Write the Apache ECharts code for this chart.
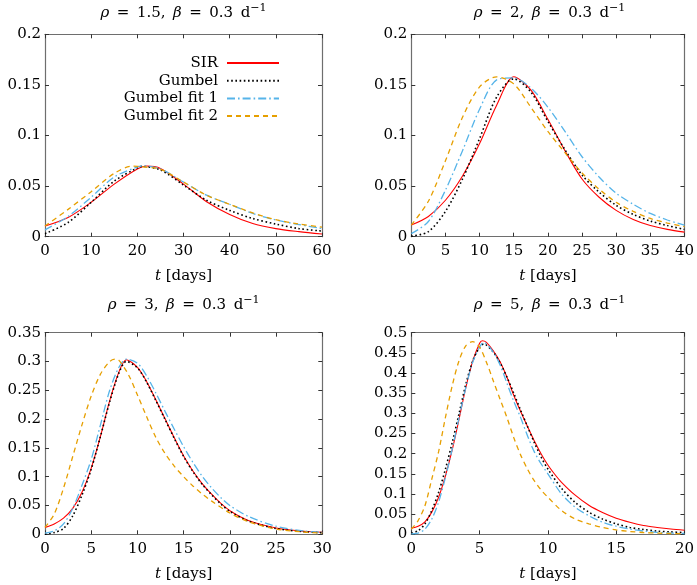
<!DOCTYPE html>
<html><head><meta charset="utf-8">
<script src="https://cdn.jsdelivr.net/npm/echarts@6/dist/echarts.min.js"></script>
<style>html,body{margin:0;padding:0;background:#fff}#c{width:697px;height:585px}</style>
</head><body><div id="c"></div>
<script>
// ---------- data ----------
const seriesNames = ['SIR', 'Gumbel', 'Gumbel fit 1', 'Gumbel fit 2'];
const panelRho = ['1.5', '2', '3', '5'];
const xMaxes = [60, 40, 30, 20];
const xIntervals = [10, 5, 5, 5];
const yMaxes = [0.2, 0.2, 0.35, 0.5];

// Panel 1: rho = 1.5
const p1_sir_t  = [0,5,10,15,20,22,25,30,35,40,45,50,55,60];
const p1_sir    = [0.0105,0.019,0.034,0.052,0.067,0.0698,0.0675,0.052,0.0346,0.022,0.013,0.008,0.005,0.0026];
const p1_gum_t  = [0,5,10,15,20,21,25,30,35,40,45,50,55,60];
const p1_gum    = [0.003,0.014,0.034,0.055,0.068,0.0695,0.066,0.051,0.036,0.026,0.018,0.0125,0.008,0.0056];
const p1_fit1_t = [0,5,10,15,20,21,25,30,35,40,45,50,55,60];
const p1_fit1   = [0.0068,0.02,0.039,0.059,0.069,0.0698,0.067,0.054,0.041,0.032,0.023,0.0165,0.012,0.008];
const p1_fit2_t = [0,5,10,15,19,20,25,30,35,40,45,50,55,60];
const p1_fit2   = [0.0105,0.027,0.0445,0.0626,0.0698,0.0695,0.0665,0.054,0.041,0.032,0.0235,0.0168,0.0125,0.0095];

// Panel 2: rho = 2
const p2_t      = [0,2.5,5,7.5,10,12.5,15,17.5,20,22.5,25,27.5,30,32.5,35,37.5,40];
const p2_sir    = [0.0115,0.02,0.036,0.06,0.092,0.13,0.158,0.145,0.116,0.085,0.057,0.039,0.026,0.017,0.011,0.0072,0.0045];
const p2_gum    = [0.0005,0.005,0.025,0.057,0.097,0.138,0.156,0.143,0.114,0.086,0.061,0.044,0.031,0.022,0.0155,0.011,0.0072];
const p2_fit1   = [0.003,0.015,0.046,0.085,0.126,0.155,0.157,0.147,0.128,0.104,0.079,0.059,0.043,0.032,0.023,0.0165,0.0115];
const p2_fit2   = [0.0115,0.035,0.075,0.118,0.148,0.158,0.151,0.128,0.104,0.083,0.063,0.047,0.034,0.025,0.018,0.0135,0.0099];

// Panel 3: rho = 3
const p3_sir_t  = [0,1,2,3,4,5,6,7,8,8.8,10,11,12,13,14,15,16,17,18,19,20,22,25,28,30];
const p3_sir    = [0.012,0.018,0.028,0.045,0.073,0.115,0.17,0.232,0.282,0.303,0.29,0.265,0.233,0.2,0.167,0.136,0.11,0.088,0.07,0.054,0.041,0.024,0.011,0.0052,0.0035];
const p3_gum_t  = [0,1,2,3,4,5,6,7,8,8.8,10,11,12,13,14,15,16,17,18,19,20,22,25,28,30];
const p3_gum    = [0.0,0.003,0.01,0.032,0.068,0.113,0.17,0.23,0.28,0.3,0.289,0.264,0.232,0.199,0.166,0.135,0.109,0.087,0.069,0.053,0.04,0.023,0.01,0.0045,0.0028];
const p3_fit1_t = [0,1,2,3,4,5,6,7,8,8.8,10,11,12,13,14,15,16,17,18,19,20,22,25,28,30];
const p3_fit1   = [0.002,0.006,0.018,0.045,0.085,0.13,0.19,0.25,0.29,0.304,0.297,0.275,0.245,0.213,0.182,0.152,0.125,0.101,0.081,0.064,0.05,0.031,0.014,0.0058,0.0032];
const p3_fit2_t = [0,1,2,3,4,5,6,7,7.6,8,9,10,11,12,13,14,15,16,17,18,20,22,25,28,30];
const p3_fit2   = [0.012,0.035,0.08,0.135,0.19,0.24,0.278,0.3,0.304,0.302,0.278,0.242,0.204,0.168,0.14,0.118,0.1,0.084,0.07,0.058,0.037,0.022,0.009,0.004,0.002];

// Panel 4: rho = 5
const p4_sir_t  = [0,0.5,1,1.5,2,2.5,3,3.5,4,4.5,5,5.2,5.5,6,6.5,7,7.5,8,8.5,9,9.5,10,10.5,11,12,13,14,15,16,17,18,19,20];
const p4_sir    = [0.015,0.02,0.031,0.055,0.092,0.145,0.21,0.286,0.365,0.43,0.474,0.48,0.476,0.455,0.428,0.39,0.345,0.305,0.268,0.232,0.2,0.172,0.149,0.129,0.097,0.072,0.054,0.04,0.03,0.022,0.017,0.013,0.01];
const p4_gum_t  = [0,0.5,1,1.5,2,2.5,3,3.5,4,4.5,5,5.3,6,6.5,7,7.5,8,8.5,9,9.5,10,11,12,13,14,15,16,17,18,19,20];
const p4_gum    = [0.003,0.009,0.026,0.059,0.104,0.162,0.228,0.3,0.373,0.43,0.464,0.472,0.452,0.425,0.39,0.35,0.308,0.268,0.228,0.192,0.162,0.114,0.079,0.055,0.038,0.026,0.017,0.012,0.008,0.006,0.004];
const p4_fit1_t = [0,0.5,1,1.5,2,2.5,3,3.5,4,4.5,5,5.3,6,6.5,7,7.5,8,8.5,9,9.5,10,11,12,13,14,15,16,17,18,19,20];
const p4_fit1   = [0.001,0.003,0.013,0.038,0.08,0.141,0.212,0.29,0.365,0.427,0.464,0.476,0.452,0.42,0.375,0.33,0.29,0.245,0.205,0.175,0.15,0.1,0.067,0.046,0.03,0.02,0.013,0.008,0.005,0.003,0.002];
const p4_fit2_t = [0,0.5,1,1.5,2,2.5,3,3.5,4,4.5,5,5.5,6,6.5,7,7.5,8,8.5,9,9.5,10,11,12,13,14,15,16,17,18,19,20];
const p4_fit2   = [0.013,0.034,0.071,0.137,0.205,0.29,0.369,0.431,0.468,0.478,0.464,0.427,0.381,0.335,0.29,0.24,0.197,0.162,0.133,0.11,0.092,0.059,0.038,0.026,0.017,0.011,0.007,0.0045,0.003,0.002,0.0015];

const panelData = [
  [[p1_sir_t,p1_sir],[p1_gum_t,p1_gum],[p1_fit1_t,p1_fit1],[p1_fit2_t,p1_fit2]],
  [[p2_t,p2_sir],[p2_t,p2_gum],[p2_t,p2_fit1],[p2_t,p2_fit2]],
  [[p3_sir_t,p3_sir],[p3_gum_t,p3_gum],[p3_fit1_t,p3_fit1],[p3_fit2_t,p3_fit2]],
  [[p4_sir_t,p4_sir],[p4_gum_t,p4_gum],[p4_fit1_t,p4_fit1],[p4_fit2_t,p4_fit2]]
];

// ---------- layout & style ----------
const FONT = 'DejaVu Serif';
const FS = 15;
const AXIS_COLOR = '#6e6e6e';
const grids = [
  {left: 45,    top: 34.3,  width: 277,   height: 202.4},
  {left: 411.3, top: 34.3,  width: 276.4, height: 202.4},
  {left: 45,    top: 332.7, width: 277.3, height: 201.6},
  {left: 411.3, top: 332.7, width: 276.4, height: 201.6}
];
const lineStyles = [
  {color: '#ff0000', width: 1.1, type: 'solid'},
  {color: '#000000', width: 1.6, type: [1.6, 2.6]},
  {color: '#56b4e9', width: 1.3, type: [8, 3, 1.6, 3]},
  {color: '#e69f00', width: 1.3, type: [5, 4]}
];

const SP = '\u2002';
const xAxes = [], yAxes = [], series = [], graphics = [];
grids.forEach((g, i) => {
  const axLine = {show: true, onZero: false, lineStyle: {color: AXIS_COLOR, width: 1.2}};
  const tick = {show: true, inside: true, length: 4, lineStyle: {color: '#333', width: 1}};
  xAxes.push({
    gridIndex: i, type: 'value', position: 'bottom', min: 0, max: xMaxes[i], interval: xIntervals[i],
    axisLine: axLine, axisTick: tick, splitLine: {show: false},
    axisLabel: {fontFamily: FONT, fontSize: FS, color: '#000', margin: 7},
    name: '{i|t} [days]', nameLocation: 'middle', nameGap: 32,
    nameTextStyle: {fontFamily: FONT, fontSize: FS, color: '#000',
      rich: {i: {fontStyle: 'italic', fontFamily: FONT, fontSize: FS, color: '#000'}}}
  });
  yAxes.push({
    gridIndex: i, type: 'value', position: 'left', min: 0, max: yMaxes[i], interval: 0.05,
    axisLine: axLine, axisTick: tick, splitLine: {show: false},
    axisLabel: {fontFamily: FONT, fontSize: FS, color: '#000', margin: 4}
  });
  series.push(...panelData[i].map((d, k) => ({
    name: seriesNames[k], type: 'line', xAxisIndex: i, yAxisIndex: i,
    data: d[0].map((t, j) => [t, d[1][j]]),
    smooth: 0.3, symbol: 'none', showSymbol: false, clip: true,
    lineStyle: lineStyles[k], itemStyle: {color: lineStyles[k].color},
    emphasis: {disabled: true}, silent: true, animation: false
  })));
  graphics.push({
    type: 'text', x: g.left + g.width / 2, y: i < 2 ? 13 : 305,
    style: {
      text: '{i|ρ}' + SP + '=' + SP + panelRho[i] + ',' + SP + '{i|β}' + SP + '=' + SP + '0.3' + SP + 'd{s|−1}',
      fontFamily: FONT, fontSize: FS, fill: '#000', lineHeight: 20,
      textAlign: 'center', textVerticalAlign: 'middle', align: 'center', verticalAlign: 'middle',
      rich: {
        i: {fontStyle: 'italic', fontFamily: FONT, fontSize: FS, lineHeight: 20},
        s: {fontFamily: FONT, fontSize: 11, lineHeight: 10, verticalAlign: 'top'}
      }
    }
  });
});
// mirrored top / right axes (ticks only)
grids.forEach((g, i) => {
  const axLine = {show: true, onZero: false, lineStyle: {color: AXIS_COLOR, width: 1.2}};
  const tick = {show: true, inside: true, length: 4, lineStyle: {color: '#333', width: 1}};
  xAxes.push({gridIndex: i, type: 'value', position: 'top', min: 0, max: xMaxes[i], interval: xIntervals[i],
    axisLine: axLine, axisTick: tick, axisLabel: {show: false}, splitLine: {show: false}});
  yAxes.push({gridIndex: i, type: 'value', position: 'right', min: 0, max: yMaxes[i], interval: 0.05,
    axisLine: axLine, axisTick: tick, axisLabel: {show: false}, splitLine: {show: false}});
});

const chart = echarts.init(document.getElementById('c'), null, {renderer: 'canvas'});
chart.setOption({
  animation: false,
  backgroundColor: '#fff',
  grid: grids,
  xAxis: xAxes,
  yAxis: yAxes,
  series: series,
  graphic: graphics,
  legend: {
    data: seriesNames, orient: 'vertical', right: 417, top: 55.5, align: 'right', padding: 0,
    itemWidth: 52, itemHeight: 14, itemGap: 2.7, selectedMode: false,
    itemStyle: {opacity: 0},
    textStyle: {fontFamily: FONT, fontSize: FS, color: '#000', padding: [0, 4, 0, 0]}
  }
});
</script></body></html>
